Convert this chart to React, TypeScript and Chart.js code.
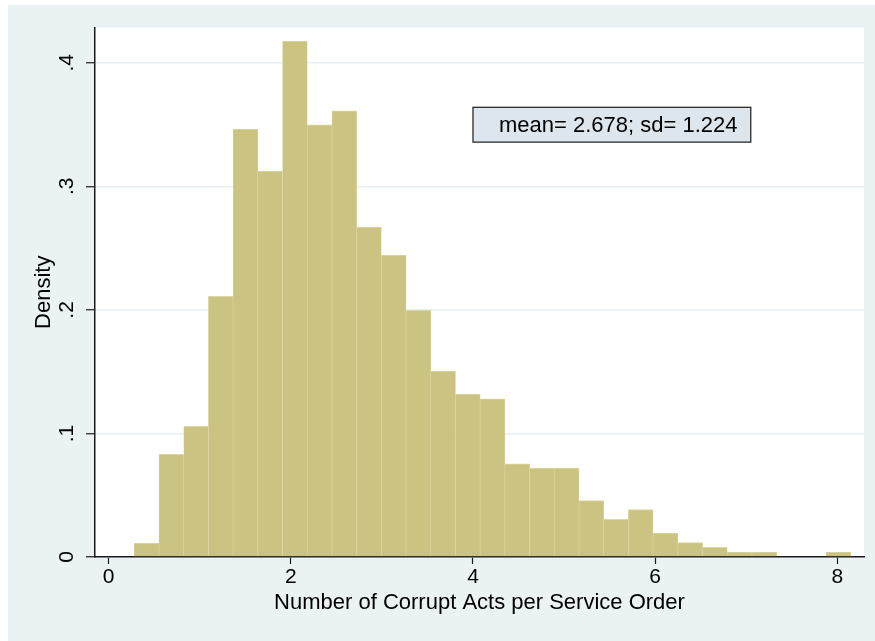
import React, { useEffect, useRef } from 'react';
import { Chart, registerables } from 'chart.js';

Chart.register(...registerables);

// Histogram bin centres (bin width ~0.271) and densities
const binCenters = [
  0.417, 0.688, 0.960, 1.231, 1.502, 1.773, 2.045, 2.316, 2.587, 2.858,
  3.130, 3.401, 3.672, 3.943, 4.215, 4.486, 4.757, 5.028, 5.300, 5.571,
  5.842, 6.114, 6.385, 6.656, 6.927, 7.199, 7.470, 7.741, 8.012,
];
const densities = [
  0.0113, 0.0831, 0.1057, 0.2109, 0.3463, 0.3123, 0.4175, 0.3498, 0.3612, 0.2670,
  0.2443, 0.1996, 0.1505, 0.1319, 0.1281, 0.0755, 0.0720, 0.0720, 0.0456, 0.0305,
  0.0383, 0.0194, 0.0116, 0.0078, 0.0040, 0.0040, 0, 0, 0.0040,
];
const xTickValues = [0, 2, 4, 6, 8];
const yTickValues = [0, 0.1, 0.2, 0.3, 0.4];
const xTitle = 'Number of Corrupt Acts per Service Order';
const yTitle = 'Density';
const statsLabel = 'mean= 2.678; sd= 1.224';

const FONT = '"Liberation Sans", Arial, Helvetica, sans-serif';
const DARK = '#1a1a1a';

export default function App() {
  const ref = useRef<HTMLCanvasElement | null>(null);

  useEffect(() => {
    if (!ref.current) return;

    const plotBg = {
      id: 'plotBg',
      beforeDraw(chart: any) {
        const { ctx, chartArea } = chart;
        ctx.save();
        ctx.fillStyle = '#ffffff';
        ctx.fillRect(chartArea.left, chartArea.top, chartArea.right - chartArea.left, chartArea.bottom - chartArea.top);
        ctx.restore();
      },
    };

    const statsBox = {
      id: 'statsBox',
      afterDraw(chart: any) {
        const { ctx } = chart;
        const xs = chart.scales.x;
        const ys = chart.scales.y;
        const left = xs.getPixelForValue(4.0);
        const right = xs.getPixelForValue(7.05);
        const top = ys.getPixelForValue(0.364);
        const bottom = ys.getPixelForValue(0.3358);
        ctx.save();
        ctx.fillStyle = '#DCE6EC';
        ctx.fillRect(left, top, right - left, bottom - top);
        ctx.strokeStyle = DARK;
        ctx.lineWidth = 1.2;
        ctx.strokeRect(left, top, right - left, bottom - top);
        ctx.fillStyle = '#000';
        ctx.font = `22px ${FONT}`;
        ctx.textAlign = 'left';
        ctx.textBaseline = 'middle';
        ctx.fillText(statsLabel, left + 26, (top + bottom) / 2 + 1);
        ctx.restore();
      },
    };

    const chart = new Chart(ref.current, {
      type: 'bar',
      data: {
        datasets: [
          {
            data: binCenters.map((x, i) => ({ x, y: densities[i] })),
            backgroundColor: '#CBC381',
            borderColor: '#DDD7A2',
            borderWidth: { top: 1, left: 0.6, right: 0.6, bottom: 0 },
            barPercentage: 1,
            categoryPercentage: 1,
          },
        ],
      },
      options: {
        responsive: false,
        animation: false,
        layout: { padding: { left: 0, right: 11, top: 22, bottom: 0 } },
        plugins: { legend: { display: false }, tooltip: { enabled: false } },
        scales: {
          x: {
            type: 'linear',
            position: 'bottom',
            min: -0.15,
            max: 8.293,
            offset: false,
            z: 1,
            afterBuildTicks: (s: any) => {
              s.ticks = xTickValues.map((v) => ({ value: v }));
            },
            afterFit: (s: any) => {
              s.height = 84;
            },
            grid: {
              display: true,
              offset: false,
              drawOnChartArea: false,
              drawTicks: true,
              tickLength: 7,
              tickColor: DARK,
              tickWidth: 1.2,
            },
            border: { display: true, color: DARK, width: 1.5 },
            ticks: {
              autoSkip: false,
              maxRotation: 0,
              minRotation: 0,
              padding: 1,
              color: '#000',
              font: { family: FONT, size: 21 },
              callback: (v: any) => String(v),
            },
            title: {
              display: true,
              text: xTitle,
              color: '#000',
              font: { family: FONT, size: 22 },
              padding: { top: 0, bottom: 25.3 },
            },
          },
          y: {
            type: 'linear',
            min: 0,
            max: 0.4285,
            z: 0,
            afterBuildTicks: (s: any) => {
              s.ticks = yTickValues.map((v) => ({ value: v }));
            },
            afterFit: (s: any) => {
              s.width = 87;
            },
            grid: {
              color: '#E6EFF3',
              lineWidth: 1.5,
              drawTicks: true,
              tickLength: 9,
              tickColor: DARK,
              tickWidth: 1.2,
            },
            border: { display: true, color: DARK, width: 1.5 },
            ticks: {
              autoSkip: false,
              minRotation: 90,
              maxRotation: 90,
              crossAlign: 'center',
              padding: 10,
              color: '#000',
              font: { family: FONT, size: 21 },
              callback: (v: any) => (Number(v) === 0 ? '0' : Number(v).toFixed(1).replace(/^0/, '')),
            },
            title: {
              display: true,
              text: yTitle,
              color: '#000',
              font: { family: FONT, size: 22 },
              padding: { top: 22.8, bottom: 0 },
            },
          },
        },
      },
      plugins: [plotBg, statsBox],
    } as any);

    return () => chart.destroy();
  }, []);

  return (
    <div
      style={{
        position: 'absolute',
        left: 8,
        top: 5,
        width: 867,
        height: 636,
        background: '#EAF2F3',
      }}
    >
      <canvas ref={ref} width={867} height={636} style={{ display: 'block' }} />
    </div>
  );
}
